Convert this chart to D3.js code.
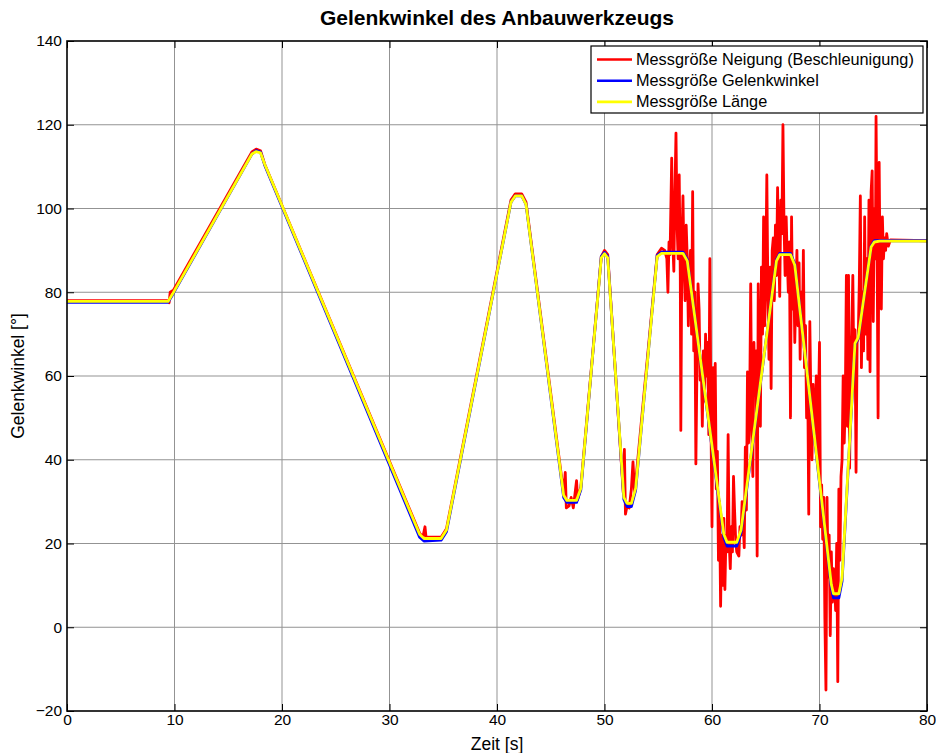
<!DOCTYPE html>
<html>
<head>
<meta charset="utf-8">
<script src="https://cdn.jsdelivr.net/npm/d3@7"></script>
<style>
  body { margin: 0; background: #fff; }
  svg { display: block; font-family: "Liberation Sans", Arial, sans-serif; }
</style>
</head>
<body>
<svg id="chart" width="936" height="753"></svg>
<script>
// Axis ticks
const timeTicks = [0, 10, 20, 30, 40, 50, 60, 70, 80];
const angleTicks = [-20, 0, 20, 40, 60, 80, 100, 120, 140];

// Legend entries (drawing order: red, blue, yellow)
const seriesNames = [
  "Messgröße Neigung (Beschleunigung)",
  "Messgröße Gelenkwinkel",
  "Messgröße Länge"
];
const seriesColors = ["#ff0000", "#0000ff", "#ffff00"];

// Measured tilt angle from acceleration sensor [t (s), angle (°)]
const tiltSeries = [
  [0,78],[9.4,78],[9.5,77.5],[9.6,80],[9.9,80.5],[17.2,113.5],[17.6,114.2],[18.0,113.8],[18.4,110.5],
  [32.8,22.5],[33.1,21.5],[33.3,24],[33.4,21.5],[34.8,21.5],[35.3,23.5],[41.3,102],[41.7,103.5],
  [42.3,103.5],[42.7,101.5],[46.2,32],[46.35,37],[46.45,28.5],[46.7,29],[46.9,31],[47.1,28.5],
  [47.4,35],[47.5,30.5],[47.8,33.5],[49.7,88.5],[50.0,90],[50.3,89],[51.75,32],[51.85,42.5],
  [51.95,27],[52.1,29],[52.3,28.5],[52.5,33],[52.65,39.5],[52.8,32],[54.9,89],[55.3,90.5],
  [55.6,90],[55.8,88],[55.9,80],[56.0,92],[56.1,89],[56.25,112],[56.35,92],[56.45,85],[56.55,104],
  [56.65,118],[56.75,96],[56.85,88],[56.95,108],[57.05,84],[57.1,47],[57.2,92],[57.3,103],[57.4,86],
  [57.5,78],[57.6,96],[57.7,88],[57.8,72],[57.9,84],[58.0,90],[58.1,70],[58.2,104],[58.3,66],
  [58.4,80],[58.5,39],[58.6,62],[58.7,82],[58.8,76],[58.9,59],[59.0,64],[59.1,48],[59.2,66],
  [59.3,54],[59.4,70],[59.5,60],[59.6,68],[59.7,46],[59.8,88],[59.9,50],[60.0,24],[60.1,62],
  [60.2,40],[60.3,63],[60.4,33],[60.5,42],[60.6,16],[60.7,30],[60.8,5],[60.9,22],[61.0,10],
  [61.1,26],[61.2,9],[61.3,22],[61.4,18],[61.5,46],[61.6,20],[61.7,14],[61.8,24],[61.9,18],
  [62.0,36],[62.1,28],[62.2,21],[62.3,18],[62.5,17],[62.6,24],[62.7,22],[62.8,30],[62.9,25],
  [63.0,19],[63.1,43],[63.2,28],[63.3,61],[63.4,44],[63.5,52],[63.6,82],[63.7,46],[63.8,36],
  [63.9,68],[64.0,56],[64.1,66],[64.2,17],[64.3,82],[64.4,60],[64.5,48],[64.6,86],[64.7,70],
  [64.8,98],[64.9,72],[65.0,84],[65.1,108],[65.2,80],[65.3,64],[65.4,86],[65.5,57],[65.6,90],
  [65.7,93],[65.8,78],[65.9,96],[66.0,84],[66.1,105],[66.2,90],[66.3,79],[66.4,102],[66.5,94],
  [66.6,120],[66.7,96],[66.8,84],[66.9,98],[67.0,88],[67.1,80],[67.2,92],[67.3,50],[67.4,98],
  [67.5,76],[67.6,86],[67.7,68],[67.8,80],[67.9,90],[68.0,72],[68.1,87],[68.2,64],[68.3,80],
  [68.4,70],[68.5,90],[68.6,62],[68.7,72],[68.8,50],[68.9,60],[69.0,27],[69.1,73],[69.2,54],
  [69.3,40],[69.4,58],[69.5,46],[69.6,50],[69.7,60],[69.8,40],[69.9,52],[70.0,68],[70.1,24],
  [70.2,34],[70.3,21],[70.4,31],[70.5,2],[70.6,-15],[70.7,31],[70.8,12],[70.9,22],[71.0,-2],
  [71.1,18],[71.2,6],[71.3,14],[71.4,11],[71.5,4],[71.6,20],[71.7,-13],[71.8,33],[71.9,16],
  [72.0,36],[72.1,40],[72.2,60],[72.3,44],[72.4,54],[72.5,84],[72.6,48],[72.7,84],[72.8,38],
  [72.9,62],[73.0,70],[73.1,84],[73.2,60],[73.3,71],[73.4,37],[73.5,68],[73.6,69],[73.7,82],
  [73.8,103],[73.9,62],[74.0,80],[74.1,66],[74.2,98],[74.3,70],[74.4,88],[74.5,64],[74.6,102],
  [74.7,61],[74.8,104],[74.9,109],[75.0,73],[75.1,100],[75.2,88],[75.26,122],[75.35,94],
  [75.45,50],[75.55,111],[75.65,80],[75.75,76],[75.85,98],[75.95,88],[76.05,93],[76.15,90],
  [76.25,94],[76.4,91],[76.6,92.5],[80,92.3]
];

// Measured joint angle [t (s), angle (°)]
const angleSeries = [
  [0,77.6],[9.4,77.6],[9.8,79.3],[17.2,113],[17.6,113.8],[18.0,113.5],[18.4,110.3],[32.8,21.5],
  [33.2,20.6],[34.8,20.8],[35.3,22.8],[41.3,101.5],[41.7,103],[42.3,103],[42.7,101],[46.2,31],
  [46.5,29.8],[47.4,29.8],[47.8,32.8],[49.7,88.5],[50.0,89.5],[50.3,88.5],[51.8,30.5],[52.1,28.8],
  [52.5,28.8],[52.9,32.8],[54.9,88.8],[55.3,89.6],[57.3,89.6],[57.7,87.8],[61.1,21.5],[61.4,19.4],
  [62.3,19.4],[62.7,22.5],[66.0,87.8],[66.3,89.3],[67.3,89.3],[67.7,86.8],[71.1,9.5],[71.3,7],
  [71.8,7],[72.1,11],[73.3,67.5],[73.6,69],[74.8,91],[75.1,92.3],[75.6,92.3],[80,92.3]
];

// Angle derived from cylinder length [t (s), angle (°)]
const lengthSeries = [
  [0,77.8],[9.4,77.8],[9.8,79.5],[17.2,113],[17.6,113.6],[18.0,113.3],[18.4,110.5],[32.8,22.2],
  [33.2,21.2],[34.8,21.2],[35.3,23.2],[41.3,101.5],[41.7,103],[42.3,103],[42.7,101],[46.2,31.5],
  [46.5,30.3],[47.4,30.3],[47.8,33.2],[49.7,88.2],[50.0,89.2],[50.3,88.2],[51.8,31],[52.1,29.6],
  [52.5,29.6],[52.9,33.2],[54.9,88.5],[55.3,89.3],[57.3,89.3],[57.7,87.5],[61.1,22.2],[61.4,20.3],
  [62.3,20.3],[62.7,23.2],[66.0,87.5],[66.3,89],[67.3,89],[67.7,86.5],[71.1,10.2],[71.3,8],
  [71.8,8],[72.1,11.8],[73.3,67.8],[73.6,69.2],[74.8,90.8],[75.1,92],[75.6,92.2],[80,92.2]
];

const width = 936, height = 753;
const margin = { top: 41, right: 9, bottom: 42, left: 67 };
const innerW = width - margin.left - margin.right;
const innerH = height - margin.top - margin.bottom;

const svg = d3.select("#chart");
const g = svg.append("g").attr("transform", `translate(${margin.left},${margin.top})`);

const x = d3.scaleLinear().domain([0, 80]).range([0, innerW]);
const y = d3.scaleLinear().domain([-20, 140]).range([innerH, 0]);

// Grid
g.append("g").selectAll("line").data(timeTicks.slice(1, -1)).join("line")
  .attr("x1", d => x(d)).attr("x2", d => x(d)).attr("y1", 0).attr("y2", innerH)
  .attr("stroke", "#939393").attr("stroke-width", 1);
g.append("g").selectAll("line").data(angleTicks.slice(1, -1)).join("line")
  .attr("x1", 0).attr("x2", innerW).attr("y1", d => y(d)).attr("y2", d => y(d))
  .attr("stroke", "#939393").attr("stroke-width", 1);

// Data lines
g.append("clipPath").attr("id", "plotClip").append("rect")
  .attr("width", innerW).attr("height", innerH);

const line = d3.line().x(d => x(d[0])).y(d => y(d[1]));
const series = [tiltSeries, angleSeries, lengthSeries];
const plot = g.append("g").attr("clip-path", "url(#plotClip)");
series.forEach((s, i) => {
  plot.append("path").datum(s)
    .attr("d", line)
    .attr("fill", "none")
    .attr("stroke", seriesColors[i])
    .attr("stroke-width", 2.8)
    .attr("stroke-linejoin", "round");
});

// Axes with inward ticks on all four sides
const tickLen = 7;
const axisBottom = d3.axisBottom(x).tickValues(timeTicks).tickSizeInner(-tickLen).tickSizeOuter(0).tickPadding(3);
const axisLeft = d3.axisLeft(y).tickValues(angleTicks).tickSizeInner(-tickLen).tickSizeOuter(0).tickPadding(5);
const axisTop = d3.axisTop(x).tickValues(timeTicks).tickSizeInner(-tickLen).tickSizeOuter(0).tickFormat("");
const axisRight = d3.axisRight(y).tickValues(angleTicks).tickSizeInner(-tickLen).tickSizeOuter(0).tickFormat("");

function styleAxis(sel) {
  sel.select(".domain").remove();
  sel.selectAll(".tick line").attr("stroke", "#000").attr("stroke-width", 1);
  sel.selectAll(".tick text").attr("fill", "#000").style("font-size", "15.5px")
    .style("font-family", "'Liberation Sans', Arial, sans-serif");
}
g.append("g").attr("transform", `translate(0,${innerH})`).call(axisBottom).call(styleAxis);
g.append("g").call(axisLeft).call(styleAxis);
g.append("g").call(axisTop).call(styleAxis);
g.append("g").attr("transform", `translate(${innerW},0)`).call(axisRight).call(styleAxis);

// Frame
g.append("rect").attr("width", innerW).attr("height", innerH)
  .attr("fill", "none").attr("stroke", "#000").attr("stroke-width", 1.6);

// Title and axis labels
svg.append("text").attr("x", margin.left + innerW / 2).attr("y", 25)
  .attr("text-anchor", "middle").style("font-size", "21px").style("font-weight", "bold")
  .text("Gelenkwinkel des Anbauwerkzeugs");
svg.append("text").attr("x", margin.left + innerW / 2).attr("y", 750)
  .attr("text-anchor", "middle").style("font-size", "17.5px")
  .text("Zeit [s]");
svg.append("text").attr("transform", `translate(24,${margin.top + innerH / 2}) rotate(-90)`)
  .attr("text-anchor", "middle").style("font-size", "17.5px")
  .text("Gelenkwinkel [°]");

// Legend
const legend = svg.append("g").attr("transform", "translate(591,46)");
legend.append("rect").attr("width", 332).attr("height", 67)
  .attr("fill", "#fff").attr("stroke", "#000").attr("stroke-width", 1.2);
seriesNames.forEach((name, i) => {
  const cy = 13.5 + i * 21.2;
  legend.append("line").attr("x1", 6).attr("x2", 41).attr("y1", cy).attr("y2", cy)
    .attr("stroke", seriesColors[i]).attr("stroke-width", 2.6);
  legend.append("text").attr("x", 45).attr("y", cy + 5.5).style("font-size", "16.3px")
    .text(name);
});
</script>
</body>
</html>
